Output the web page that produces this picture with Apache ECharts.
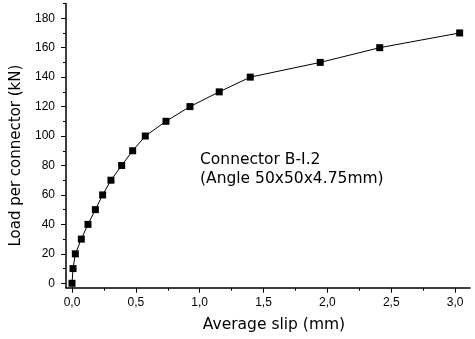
<!DOCTYPE html>
<html><head><meta charset="utf-8">
<script src="https://cdn.jsdelivr.net/npm/echarts@6/dist/echarts.min.js"></script>
<style>html,body{margin:0;padding:0;background:#fff}#c{width:475px;height:339px}</style>
</head><body><div id="c"></div>
<script>
// Average slip (mm) and load per connector (kN)
const slip = [0, 0.008, 0.026, 0.073, 0.125, 0.183, 0.240, 0.305, 0.389, 0.475, 0.574, 0.736, 0.924, 1.153, 1.396, 1.944, 2.410, 3.036];
const load = [0, 10, 20, 30, 40, 50, 60, 70, 80, 90, 100, 110, 120, 130, 140, 150, 160, 170];
const xMajorTicks = [0, 0.5, 1.0, 1.5, 2.0, 2.5, 3.0];
const xMinorTicks = [0.25, 0.75, 1.25, 1.75, 2.25, 2.75];
const yMajorTicks = [0, 20, 40, 60, 80, 100, 120, 140, 160, 180];
const yMinorTicks = [10, 30, 50, 70, 90, 110, 130, 150, 170, 190];
const xTitle = 'Average slip (mm)';
const yTitle = 'Load per connector (kN)';
const annotation = ['Connector B-I.2', '(Angle 50x50x4.75mm)'];
const X_MIN = -0.047, X_MAX = 3.117, Y_MIN = -3, Y_MAX = 190;

const chart = echarts.init(document.getElementById('c'), null, {renderer: 'canvas'});
const black = '#000';
const tickFont = {color: black, fontFamily: 'Liberation Sans, Arial, sans-serif', fontSize: 12};
const titleFont = 'DejaVu Sans, sans-serif';

function axisBase(min, max) {
  return {type: 'value', min: min, max: max, splitLine: {show: false}};
}

chart.setOption({
  animation: false,
  backgroundColor: '#fff',
  grid: {left: 66, right: 5, top: 3.5, bottom: 51.3, containLabel: false},
  xAxis: [
    Object.assign(axisBase(X_MIN, X_MAX), {
      position: 'bottom',
      axisLine: {show: true, onZero: false, lineStyle: {color: black, width: 1.5}},
      axisTick: {show: true, inside: false, length: 5, customValues: xMajorTicks, lineStyle: {color: black, width: 1}},
      axisLabel: Object.assign({show: true, margin: 9, customValues: xMajorTicks,
        formatter: v => v.toFixed(1).replace('.', ',')}, tickFont),
      name: xTitle, nameLocation: 'middle', nameGap: 29,
      nameTextStyle: {color: black, fontFamily: titleFont, fontSize: 15.5, padding: [0, 0, 0, 12]}
    }),
    Object.assign(axisBase(X_MIN, X_MAX), {
      position: 'bottom',
      axisLine: {show: false, onZero: false},
      axisTick: {show: true, inside: false, length: 3, customValues: xMinorTicks, lineStyle: {color: black, width: 1}},
      axisLabel: {show: false}
    })
  ],
  yAxis: [
    Object.assign(axisBase(Y_MIN, Y_MAX), {
      position: 'left',
      axisLine: {show: true, onZero: false, lineStyle: {color: black, width: 1.5}},
      axisTick: {show: true, inside: false, length: 5, customValues: yMajorTicks, lineStyle: {color: black, width: 1}},
      axisLabel: Object.assign({show: true, margin: 11, customValues: yMajorTicks}, tickFont),
      name: yTitle, nameLocation: 'middle', nameGap: 40, nameRotate: 90,
      nameTextStyle: {color: black, fontFamily: titleFont, fontSize: 15, padding: [0, 20, 0, 0]}
    }),
    Object.assign(axisBase(Y_MIN, Y_MAX), {
      position: 'left',
      axisLine: {show: false, onZero: false},
      axisTick: {show: true, inside: false, length: 3, customValues: yMinorTicks, lineStyle: {color: black, width: 1}},
      axisLabel: {show: false}
    })
  ],
  series: [{
    type: 'line',
    xAxisIndex: 0, yAxisIndex: 0,
    data: slip.map((s, i) => [s, load[i]]),
    symbol: 'rect', symbolSize: 7,
    itemStyle: {color: black},
    lineStyle: {color: black, width: 1},
    smooth: false
  }],
  graphic: [
    {type: 'text', left: 200, top: 152, style: {text: annotation[0], fill: black, font: '15.5px "DejaVu Sans", sans-serif'}},
    {type: 'text', left: 200, top: 171, style: {text: annotation[1], fill: black, font: '15.5px "DejaVu Sans", sans-serif'}}
  ]
});
</script></body></html>
